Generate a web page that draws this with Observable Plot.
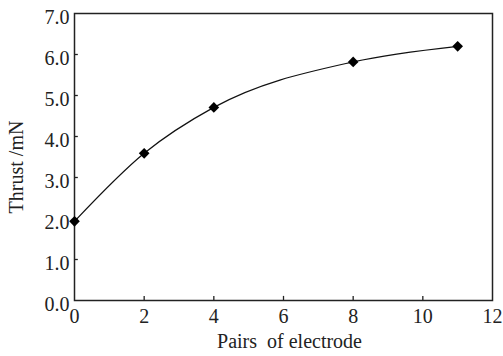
<!DOCTYPE html>
<html><head><meta charset="utf-8">
<script src="https://cdn.jsdelivr.net/npm/d3@7"></script>
<script src="https://cdn.jsdelivr.net/npm/@observablehq/plot@0.6"></script>
<style>
body{margin:0;background:#fff;}
svg{font-family:"Liberation Serif","Times New Roman",serif;}
</style>
</head><body><div id="c"></div>
<script>
const pairs = [0, 2, 4, 8, 11];
const thrust = [1.93, 3.59, 4.71, 5.82, 6.2];
const xTicks = [0, 2, 4, 6, 8, 10, 12];
const yTicks = [0, 1, 2, 3, 4, 5, 6, 7];
const xLabel = "Pairs\u00a0\u00a0of electrode";
const yLabel = "Thrust /mN";

const data = pairs.map((p, i) => ({pairs: p, thrust: thrust[i]}));

const chart = Plot.plot({
  width: 503, height: 356,
  marginLeft: 74, marginRight: 11, marginTop: 13, marginBottom: 56,
  style: {fontFamily: "Liberation Serif, Times New Roman, serif", fontSize: "20px", background: "white", color: "#222"},
  x: {domain: [0, 12], ticks: xTicks, tickFormat: d => d},
  y: {domain: [0, 7], ticks: yTicks, tickFormat: d => d.toFixed(1)},
  marks: [
    Plot.axisX({ticks: xTicks, tickSize: 0, tickPadding: 8, label: null, fontSize: 20}),
    Plot.axisY({ticks: yTicks, tickSize: 0, tickPadding: 5, dy: 4, label: null, fontSize: 20}),
    Plot.ruleX(xTicks.slice(1, -1), {y1: 0, y2: 0.1, stroke: "#222", strokeWidth: 1.3}),
    Plot.ruleY(yTicks.slice(1, -1), {x1: 0, x2: 0.11, stroke: "#222", strokeWidth: 1.3}),
    Plot.frame({stroke: "#222", strokeWidth: 1.5}),
    Plot.line(data, {x: "pairs", y: "thrust", curve: "monotone-x", stroke: "#111", strokeWidth: 1.2}),
    Plot.dot(data, {x: "pairs", y: "thrust", symbol: "diamond2", r: 4.8, fill: "#000", stroke: "none"}),
    Plot.text([xLabel], {text: d => d, frameAnchor: "bottom", textAnchor: "middle", dy: 47, dx: 6, fontSize: 20, fill: "#222"}),
    Plot.text([yLabel], {text: d => d, frameAnchor: "left", textAnchor: "middle", lineAnchor: "middle", rotate: -90, dx: -58, dy: 10, fontSize: 20, fill: "#222"})
  ]
});
document.getElementById("c").appendChild(chart);
</script></body></html>
